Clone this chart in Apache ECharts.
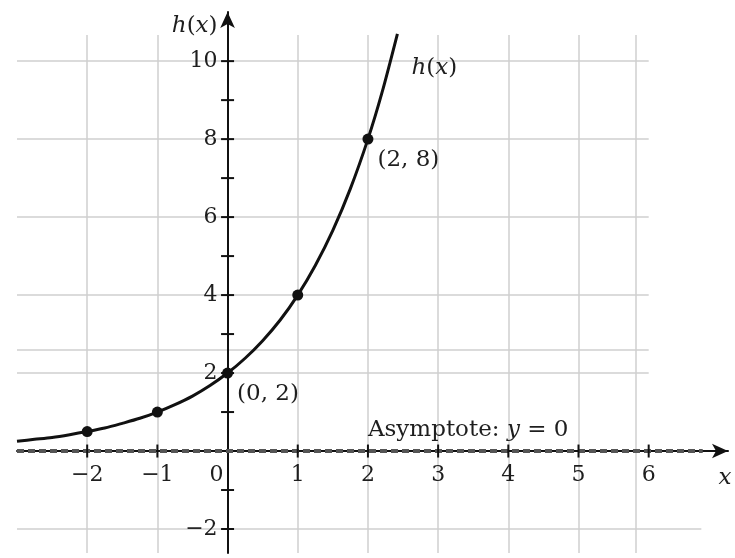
<!DOCTYPE html>
<html>
<head>
<meta charset="utf-8">
<script src="https://cdn.jsdelivr.net/npm/echarts@6/dist/echarts.min.js"></script>
<style>
  html, body { margin: 0; padding: 0; background: #fff; }
  #chart { width: 735px; height: 558px; }
</style>
</head>
<body>
<div id="chart"></div>
<script>
// h(x) = 2 * 2^x
var curveX = [-3, -2.75, -2.5, -2.25, -2, -1.75, -1.5, -1.25, -1, -0.75, -0.5, -0.25, 0,
  0.25, 0.5, 0.75, 1, 1.25, 1.5, 1.75, 2, 2.2, 2.42]
var curveY = [0.25, 0.3, 0.35, 0.42, 0.5, 0.59, 0.71, 0.84, 1, 1.19, 1.41, 1.68, 2,
  2.38, 2.83, 3.36, 4, 4.76, 5.66, 6.73, 8, 9.19, 10.7]
var pointX = [-2, -1, 0, 1, 2]
var pointY = [0.5, 1, 2, 4, 8]
var pointLabels = ['', '', '(0, 2)', '', '(2, 8)']
var asymptoteY = 0
var asymptoteX = [-3, 6.77]

// axis ticks / labels / grid
var xTickLabels = [-2, -1, 0, 1, 2, 3, 4, 5, 6]
var yTickLabels = [-2, 2, 4, 6, 8, 10]
var xTicks = [-2, -1, 1, 2, 3, 4, 5, 6]
var yTicks = [-2, -1, 1, 2, 3, 4, 5, 6, 7, 8, 9, 10]
var xGrid = [-2, -1, 1, 2, 3, 4, 5, 5.82]
var yGrid = [2, 2.6, 4, 6, 8, 10]
var yGridLow = [-2]

var X_MIN = -3
var X_MAX = 7.13
var Y_MIN = -2.615
var Y_MAX = 11.26
var GRID_X_END = 6
var GRID_X_END_LOW = 6.75
var GRID_Y_TOP = 10.67

var FONT = 'DejaVu Serif'
var TXT = '#1e1e1e'

function numLabel(v) {
  return v < 0 ? '\u2212' + (-v) : String(v)
}

var gridLines = []
yGrid.forEach(function (v) {
  gridLines.push([{ coord: [X_MIN, v] }, { coord: [GRID_X_END, v] }])
})
yGridLow.forEach(function (v) {
  gridLines.push([{ coord: [X_MIN, v] }, { coord: [GRID_X_END_LOW, v] }])
})
xGrid.forEach(function (v) {
  gridLines.push([{ coord: [v, Y_MIN] }, { coord: [v, GRID_Y_TOP] }])
})

var curveData = curveX.map(function (x, i) { return [x, curveY[i]] })
var pointData = pointX.map(function (x, i) {
  var item = { value: [x, pointY[i]] }
  if (pointLabels[i]) {
    item.label = { show: true, formatter: pointLabels[i] }
  }
  return item
})
var yTickData = yTicks.map(function (v) { return [0, v] })
var xTickData = xTicks.map(function (v) { return [v, 0] })

var xLabelData = xTickLabels.map(function (v) {
  return {
    value: [v, 0],
    label: { formatter: numLabel(v), offset: v === 0 ? [-11, 24] : [0, 24] }
  }
})
var yLabelData = yTickLabels.map(function (v) {
  return { value: [0, v], label: { formatter: numLabel(v) } }
})

var italic = { fontFamily: FONT, fontStyle: 'italic', fontSize: 23, color: TXT }
var upright = { fontFamily: FONT, fontSize: 23, color: TXT }

function textSeries(data, label) {
  return {
    type: 'scatter',
    symbolSize: 0,
    silent: true,
    z: 6,
    itemStyle: { opacity: 1 },
    data: data,
    label: Object.assign({ show: true, fontFamily: FONT, fontSize: 22, color: TXT }, label)
  }
}

var chart = echarts.init(document.getElementById('chart'))
chart.setOption({
  animation: false,
  backgroundColor: '#fff',
  grid: {
    left: 17,
    right: 7,
    top: 12,
    bottom: 5,
    containLabel: false,
    outerBoundsMode: 'none'
  },
  xAxis: {
    type: 'value',
    min: X_MIN,
    max: X_MAX,
    axisLine: {
      onZero: true,
      symbol: ['none', 'arrow'],
      symbolSize: [11, 16],
      lineStyle: { color: '#111', width: 2 }
    },
    axisTick: { show: false },
    splitLine: { show: false },
    axisLabel: { show: false }
  },
  yAxis: {
    type: 'value',
    min: Y_MIN,
    max: Y_MAX,
    axisLine: {
      onZero: true,
      symbol: ['none', 'arrow'],
      symbolSize: [11, 16],
      lineStyle: { color: '#111', width: 2 }
    },
    axisTick: { show: false },
    splitLine: { show: false },
    axisLabel: { show: false }
  },
  series: [
    {
      // grid
      type: 'line',
      data: [],
      z: -1,
      markLine: {
        silent: true,
        z: -1,
        symbol: ['none', 'none'],
        label: { show: false },
        lineStyle: { color: '#cfcfcf', width: 1.5, type: 'solid' },
        data: gridLines
      }
    },
    {
      // asymptote y = 0
      type: 'line',
      data: asymptoteX.map(function (x) { return [x, asymptoteY] }),
      showSymbol: false,
      silent: true,
      z: 3,
      lineStyle: { color: '#555', width: 4, type: [7, 4] }
    },
    {
      // tick marks crossing the axes
      type: 'scatter',
      symbol: 'rect',
      symbolSize: [13, 2],
      itemStyle: { color: '#111', opacity: 1 },
      silent: true,
      data: yTickData
    },
    {
      type: 'scatter',
      symbol: 'rect',
      symbolSize: [2, 13],
      itemStyle: { color: '#111', opacity: 1 },
      silent: true,
      z: 4,
      data: xTickData
    },
    {
      name: 'h(x)',
      type: 'line',
      data: curveData,
      smooth: 0.3,
      showSymbol: false,
      z: 4,
      lineStyle: { color: '#111', width: 3 },
      endLabel: {
        show: true,
        distance: 5,
        offset: [9, 34],
        fontFamily: FONT,
        fontSize: 23,
        color: TXT,
        formatter: '{i|h}{u|(}{i|x}{u|)}',
        rich: { i: italic, u: upright }
      }
    },
    {
      type: 'scatter',
      data: pointData,
      symbolSize: 11,
      z: 5,
      itemStyle: { color: '#111', opacity: 1 },
      label: {
        show: false,
        position: 'right',
        distance: 4,
        offset: [0, 21],
        fontFamily: FONT,
        fontSize: 23,
        color: TXT
      }
    },
    // tick labels
    textSeries(xLabelData, { position: 'inside' }),
    textSeries(yLabelData, { position: 'left', distance: 10 }),
    // axis names
    textSeries([[0, Y_MAX]], {
      position: 'left',
      distance: 10,
      offset: [0, 14],
      formatter: '{i|h}{u|(}{i|x}{u|)}',
      rich: { i: italic, u: upright }
    }),
    textSeries([[X_MAX, 0]], {
      position: 'inside',
      offset: [-3, 27],
      formatter: '{i|x}',
      rich: { i: italic }
    }),
    // asymptote text
    textSeries([[pointX[4], asymptoteY]], {
      position: 'right',
      distance: 0,
      offset: [0, -21],
      fontSize: 23,
      formatter: 'Asymptote: {i|y} = 0',
      rich: { i: italic }
    })
  ]
})
</script>
</body>
</html>
